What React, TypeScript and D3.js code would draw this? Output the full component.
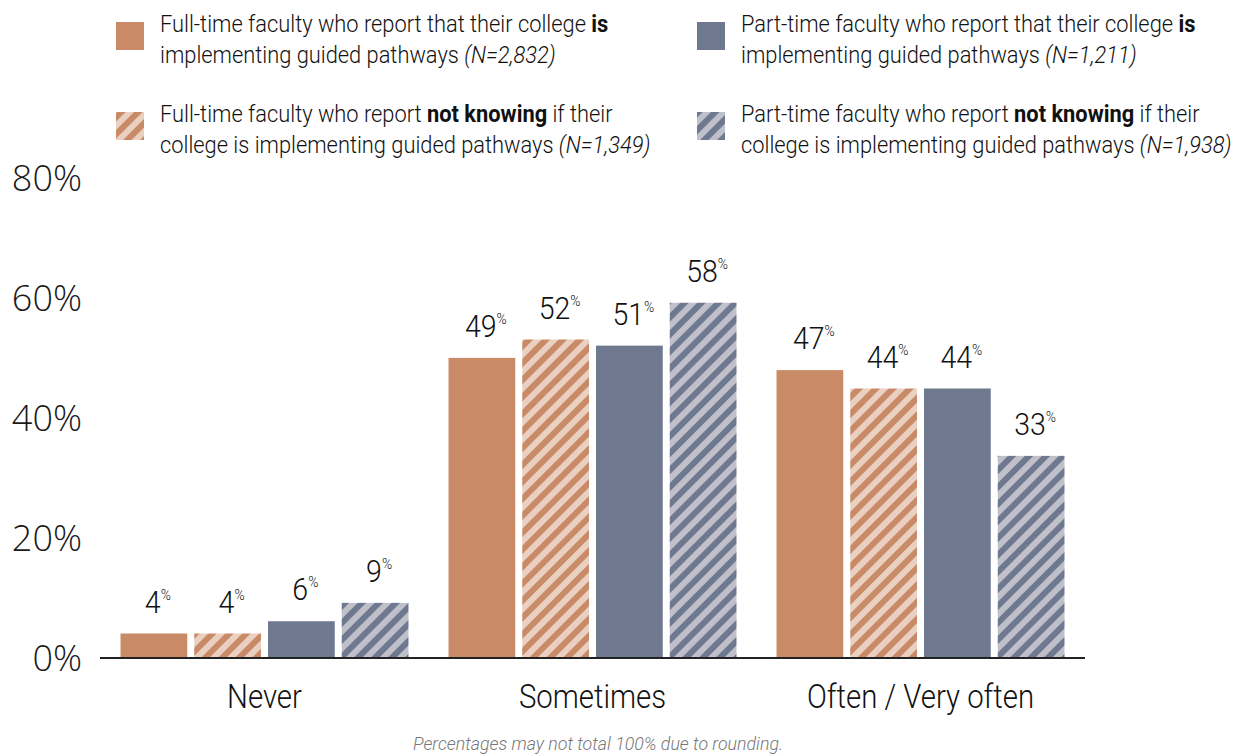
import React from "react";
import * as d3 from "d3";

const categories = ["Never", "Sometimes", "Often / Very often"];
const seriesKeys = ["ftIs", "ftNotKnow", "ptIs", "ptNotKnow"];
const ftIs = [4, 49, 47];
const ftNotKnow = [4, 52, 44];
const ptIs = [6, 51, 44];
const ptNotKnow = [9, 58, 33];
const yTicks = [0, 20, 40, 60, 80];
const legendItems = [
  { key: "ftIs", lines: [[["Full-time faculty who report that their college ", "n"], ["is", "b"]], [["implementing guided pathways ", "n"], ["(N=2,832)", "i"]]] },
  { key: "ptIs", lines: [[["Part-time faculty who report that their college ", "n"], ["is", "b"]], [["implementing guided pathways ", "n"], ["(N=1,211)", "i"]]] },
  { key: "ftNotKnow", lines: [[["Full-time faculty who report ", "n"], ["not knowing", "b"], [" if their", "n"]], [["college is implementing guided pathways ", "n"], ["(N=1,349)", "i"]]] },
  { key: "ptNotKnow", lines: [[["Part-time faculty who report ", "n"], ["not knowing", "b"], [" if their", "n"]], [["college is implementing guided pathways ", "n"], ["(N=1,938)", "i"]]] },
];
const footnote = "Percentages may not total 100% due to rounding.";

const FONT = "'Roboto', sans-serif";
const LIGHT = "'Open Sans', 'Roboto', sans-serif";

const fills: Record<string, string> = {
  ftIs: "#C98A67",
  ftNotKnow: "url(#hatchOrange)",
  ptIs: "#6E788E",
  ptNotKnow: "url(#hatchSlate)",
};

export default function App() {
  const W = 1247, H = 755;
  const values: Record<string, number[]> = { ftIs, ftNotKnow, ptIs, ptNotKnow };
  const x0 = d3.scaleBand<string>().domain(categories).range([100, 1085]).paddingInner(0.122).paddingOuter(0.0625);
  const x1 = d3.scaleBand<string>().domain(seriesKeys).range([0, x0.bandwidth()]).paddingInner(0.095).paddingOuter(0);
  const y = d3.scaleLinear().domain([0, 80]).range([658, 168]);
  const yLab = d3.scaleLinear().domain([0, 80]).range([658, 178]);

  const legendPos = [
    { x: 116, y: 22 },
    { x: 697, y: 22 },
    { x: 116, y: 112 },
    { x: 697, y: 112 },
  ];

  return (
    <svg width={W} height={H} style={{ position: "absolute", left: 0, top: 0, background: "#fff" }}>
      <defs>
        <pattern id="hatchOrange" patternUnits="userSpaceOnUse" width="12" height="12" patternTransform="rotate(45)">
          <rect width="12" height="12" fill="#C98A67" />
          <rect width="6" height="12" fill="#E9D0C1" />
        </pattern>
        <pattern id="hatchSlate" patternUnits="userSpaceOnUse" width="12" height="12" patternTransform="rotate(45)">
          <rect width="12" height="12" fill="#6E788E" />
          <rect width="6" height="12" fill="#C0C0CB" />
        </pattern>
      </defs>

      {/* Legend */}
      {legendItems.map((it, i) => (
        <g key={it.key}>
          <rect x={legendPos[i].x} y={legendPos[i].y} width={28} height={28} fill={fills[it.key]} />
          <g transform={`translate(${legendPos[i].x + 44},${legendPos[i].y + 10}) scale(0.95,1)`}>
            <text fontFamily={FONT} fontWeight={300} fontSize={23} fill="#111">
              {it.lines.map((line, li) => (
                <tspan key={li} x={0} y={li * 31}>
                  {line.map((seg, si) => (
                    <tspan key={si} fontWeight={seg[1] === "b" ? 700 : 300} fontStyle={seg[1] === "i" ? "italic" : "normal"}>
                      {seg[0]}
                    </tspan>
                  ))}
                </tspan>
              ))}
            </text>
          </g>
        </g>
      ))}

      {/* Y tick labels */}
      {yTicks.map((t) => (
        <text key={t} x={82} y={yLab(t)} dy="0.35em" textAnchor="end" fontFamily={LIGHT} fontWeight={300} fontSize={36} fill="#1a1a1a">
          {t}%
        </text>
      ))}

      {/* Bars */}
      {categories.map((c, ci) => (
        <g key={c} transform={`translate(${x0(c)},0)`}>
          {seriesKeys.map((k) => {
            const v = values[k][ci];
            const bx = x1(k)!;
            const bw = x1.bandwidth();
            return (
              <g key={k}>
                <rect x={bx} y={y(v)} width={bw} height={y(0) - y(v)} fill={fills[k]} />
                <g transform={`translate(${bx + bw / 2 + 4},${y(v) - 21}) scale(0.92,1)`}>
                  <text x={0} y={0} textAnchor="middle" fontFamily={FONT} fontWeight={300} fontSize={31} fill="#111">
                    {v}
                    <tspan fontSize={15} dy={-13}>%</tspan>
                  </text>
                </g>
              </g>
            );
          })}
        </g>
      ))}

      {/* Baseline */}
      <line x1={100} x2={1085} y1={y(0)} y2={y(0)} stroke="#222" strokeWidth={2} />

      {/* Category labels */}
      {categories.map((c) => (
        <g key={c} transform={`translate(${x0(c)! + x0.bandwidth() / 2},708) scale(0.89,1)`}>
          <text x={0} y={0} textAnchor="middle" fontFamily={FONT} fontWeight={300} fontSize={33} fill="#111">
            {c}
          </text>
        </g>
      ))}

      <g transform="translate(598,750) scale(0.935,1)">
        <text x={0} y={0} textAnchor="middle" fontFamily={FONT} fontWeight={300} fontStyle="italic" fontSize={19} fill="#777">
          {footnote}
        </text>
      </g>
    </svg>
  );
}
